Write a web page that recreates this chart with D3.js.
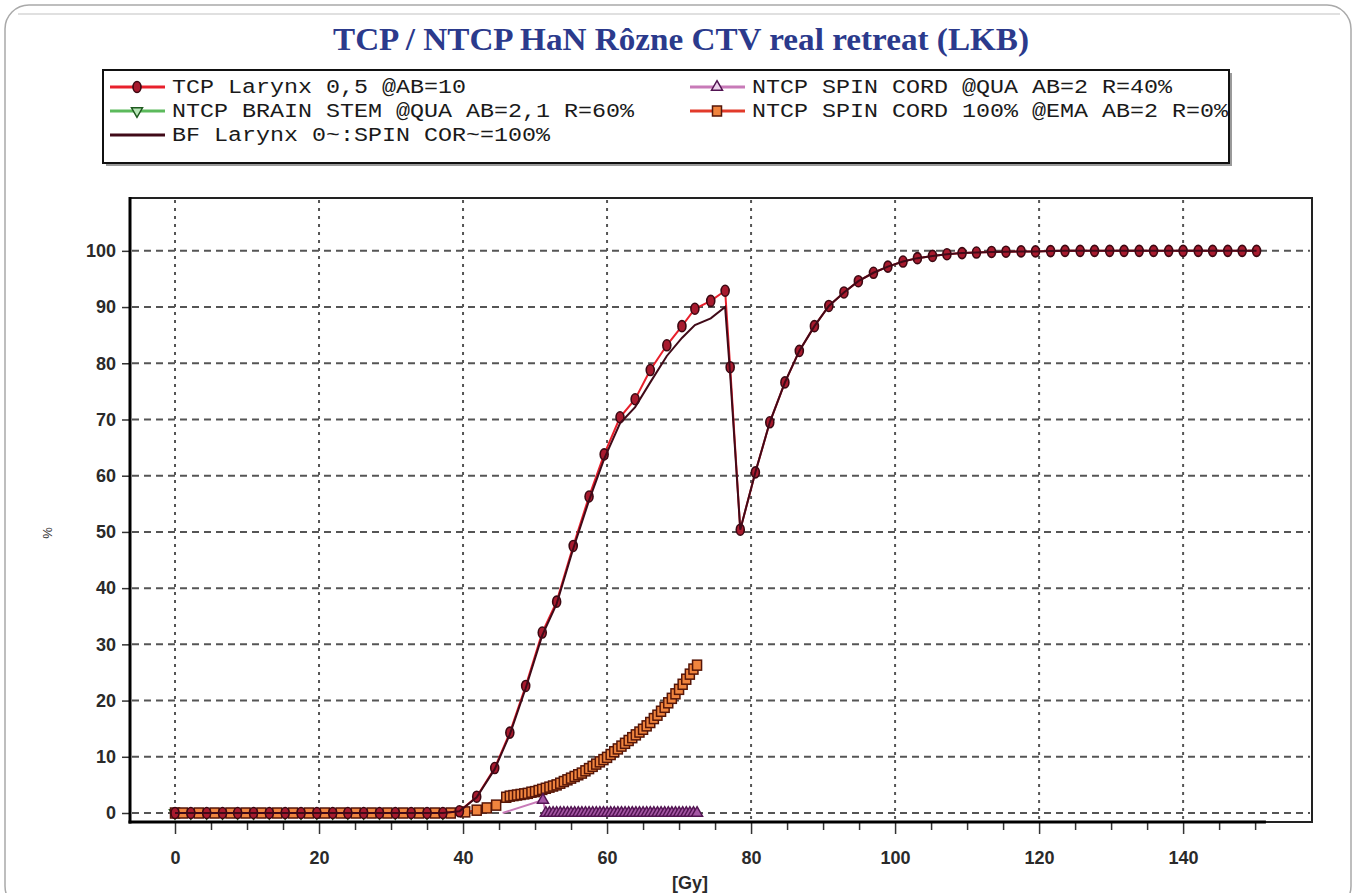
<!DOCTYPE html>
<html>
<head>
<meta charset="utf-8">
<script src="https://cdn.jsdelivr.net/npm/d3@7"></script>
<style>
  html, body { margin: 0; padding: 0; background: #fff; }
  svg { display: block; }
</style>
</head>
<body>
<div id="chart"></div>
<script>
// ---- data ----
const titleText = "TCP / NTCP HaN Rôzne CTV real retreat (LKB)";
const xTicks = [0, 5, 10, 15, 20, 25, 30, 35, 40, 45, 50, 55, 60, 65, 70, 75, 80, 85, 90, 95, 100, 105, 110, 115, 120, 125, 130, 135, 140, 145, 150];
const xLabels = [0, 20, 40, 60, 80, 100, 120, 140];
const yTicks = [0, 10, 20, 30, 40, 50, 60, 70, 80, 90, 100];

// dose points of the larynx curves (first course, drop, retreat course)
const tcpDose = [0, 2.2, 4.4, 6.6, 8.7, 10.9, 13.1, 15.3, 17.5, 19.7, 21.9, 24.0, 26.2, 28.4, 30.6, 32.8, 35.0, 37.2,
  39.5, 41.9, 44.4, 46.5, 48.7, 51.0, 53.0, 55.3, 57.5, 59.6, 61.8, 63.9, 66.0, 68.3, 70.4, 72.2, 74.4, 76.4, 77.1,
  78.5, 80.6, 82.6, 84.7, 86.7, 88.8, 90.8, 92.9, 94.9, 97.0, 99.0, 101.1, 103.1, 105.2, 107.2, 109.3, 111.3, 113.4,
  115.4, 117.5, 119.5, 121.6, 123.6, 125.7, 127.7, 129.8, 131.8, 133.9, 135.9, 138.0, 140.0, 142.1, 144.1, 146.2, 148.2, 150.2];
const tcpValue = [0, 0, 0, 0, 0, 0, 0, 0, 0, 0, 0, 0, 0, 0, 0, 0, 0, 0,
  0.3, 2.9, 8.0, 14.3, 22.6, 32.1, 37.6, 47.5, 56.3, 63.8, 70.4, 73.6, 78.8, 83.2, 86.6, 89.7, 91.1, 92.9, 79.3,
  50.4, 60.6, 69.5, 76.6, 82.2, 86.6, 90.2, 92.6, 94.6, 96.1, 97.2, 98.1, 98.7, 99.1, 99.4, 99.6, 99.7, 99.8,
  99.85, 99.9, 99.9, 99.95, 100, 100, 100, 100, 100, 100, 100, 100, 100, 100, 100, 100, 100, 100];
const bfValue = [0, 0, 0, 0, 0, 0, 0, 0, 0, 0, 0, 0, 0, 0, 0, 0, 0, 0,
  0.3, 2.8, 7.8, 14.0, 22.2, 31.6, 37.2, 47.0, 55.6, 63.0, 69.3, 72.2, 76.6, 81.3, 84.5, 86.8, 88.0, 90.0, 78.0,
  50.4, 60.6, 69.5, 76.6, 82.2, 86.6, 90.2, 92.6, 94.6, 96.1, 97.2, 98.1, 98.7, 99.1, 99.4, 99.6, 99.7, 99.8,
  99.85, 99.9, 99.9, 99.95, 100, 100, 100, 100, 100, 100, 100, 100, 100, 100, 100, 100, 100, 100];

// brain stem stays at zero (hidden under the other curves)
const stemDose = [0, 2.2, 4.4, 6.6, 8.7, 10.9, 13.1, 15.3, 17.5, 19.7, 21.9, 24.0, 26.2, 28.4, 30.6, 32.8, 35.0, 37.2];
const stemValue = [0, 0, 0, 0, 0, 0, 0, 0, 0, 0, 0, 0, 0, 0, 0, 0, 0, 0];

// spinal cord 100% @EMA (orange squares)
const cordEmaDose = [0, 1.1, 3.3, 5.5, 7.7, 9.8, 12.0, 14.2, 16.4, 18.6, 20.8, 23.0, 25.1, 27.3, 29.5, 31.7, 33.9, 36.1, 38.3,
  40.3, 41.9, 43.3, 44.6,
  46.0, 46.5, 47.0, 47.5, 48.0, 48.5, 49.0, 49.5, 50.0, 50.5, 51.0, 51.5, 52.0, 52.5, 53.0, 53.5, 54.0, 54.5,
  55.0, 55.5, 56.0, 56.5, 57.0, 57.5, 58.0, 58.5, 59.0, 59.5, 60.0, 60.5, 61.0, 61.5, 62.0, 62.5, 63.0, 63.5,
  64.0, 64.5, 65.0, 65.5, 66.0, 66.5, 67.0, 67.5, 68.0, 68.5, 69.0, 69.5, 70.0, 70.5, 71.0, 71.5, 72.0, 72.5];
const cordEmaValue = [0, 0, 0, 0, 0, 0, 0, 0, 0, 0, 0, 0, 0, 0, 0, 0, 0, 0, 0,
  0.2, 0.5, 0.9, 1.4,
  2.8, 3.0, 3.1, 3.2, 3.3, 3.4, 3.5, 3.7, 3.8, 4.0, 4.2, 4.4, 4.6, 4.8, 5.0, 5.3, 5.6, 5.9,
  6.2, 6.5, 6.8, 7.1, 7.5, 7.9, 8.3, 8.7, 9.1, 9.5, 9.9, 10.4, 10.9, 11.4, 11.9, 12.4, 12.9, 13.4,
  13.9, 14.4, 14.9, 15.5, 16.1, 16.8, 17.4, 18.1, 18.8, 19.6, 20.4, 21.2, 22.0, 22.9, 23.8, 24.7, 25.6, 26.3];

// spinal cord @QUA (purple triangles); the first point has no visible marker
const cordQuaDose = [45.5, 51.1,
  51.5, 52.0, 52.5, 53.0, 53.5, 54.0, 54.5, 55.0, 55.5, 56.0, 56.5, 57.0, 57.5, 58.0, 58.5, 59.0, 59.5,
  60.0, 60.5, 61.0, 61.5, 62.0, 62.5, 63.0, 63.5, 64.0, 64.5, 65.0, 65.5, 66.0, 66.5, 67.0, 67.5, 68.0,
  68.5, 69.0, 69.5, 70.0, 70.5, 71.0, 71.5, 72.0, 72.5];
const cordQuaValue = [0, 2.3,
  0, 0, 0, 0, 0, 0, 0, 0, 0, 0, 0, 0, 0, 0, 0, 0, 0,
  0, 0, 0, 0, 0, 0, 0, 0, 0, 0, 0, 0, 0, 0, 0, 0, 0,
  0, 0, 0, 0, 0, 0, 0, 0, 0];

const seriesNames = [
  "TCP Larynx 0,5 @AB=10",
  "NTCP SPIN CORD @QUA AB=2 R=40%",
  "NTCP BRAIN STEM @QUA AB=2,1 R=60%",
  "NTCP SPIN CORD 100% @EMA AB=2 R=0%",
  "BF Larynx 0~:SPIN COR~=100%"
];

class DoseChart {

  constructor(opts) {
    this.element = opts.element;
    this.width = 1357;
    this.height = 893;
    this.create();
  }

  create() {
    this.svg = d3.select(this.element).append('svg')
      .attr('width', this.width)
      .attr('height', this.height);

    this.x = d3.scaleLinear().domain([-6.25, 157.9]).range([130, 1312]);
    this.y = d3.scaleLinear().domain([-1.6, 109.4]).range([822, 198]);

    // series styles
    this.styles = {
      tcp:   { line: '#e8202c', fill: '#a81a2e', stroke: '#3c0812', marker: 'ellipse' },
      qua:   { line: '#c87ab8', fill: '#a456a4', stroke: '#521452', marker: 'triangle' },
      stem:  { line: '#5cba5c', fill: '#b8e6b8', stroke: '#1e5a1e', marker: 'down' },
      ema:   { line: '#e23a2a', fill: '#f0843e', stroke: '#561608', marker: 'square' },
      bf:    { line: '#400a18', marker: null }
    };

    this.drawSlide();
    this.drawTitle();
    this.drawLegend();
    this.drawGrid();
    this.drawSeries();
    this.drawAxes();
  }

  drawSlide() {
    this.svg.append('rect')
      .attr('x', 5).attr('y', 5).attr('width', 1346).attr('height', 905).attr('rx', 24)
      .attr('fill', '#fff').attr('stroke', '#a9a9a9').attr('stroke-width', 1.5);
    this.svg.append('line')
      .attr('x1', 18).attr('x2', 1340).attr('y1', 14).attr('y2', 14)
      .attr('stroke', '#d6d6d6').attr('stroke-width', 1.5);
  }

  drawTitle() {
    this.svg.append('text')
      .attr('x', 681).attr('y', 50)
      .attr('text-anchor', 'middle')
      .attr('textLength', 696).attr('lengthAdjust', 'spacingAndGlyphs')
      .style('font-family', '"Liberation Serif", "Times New Roman", serif')
      .style('font-weight', 'bold').style('font-size', '31px')
      .attr('fill', '#2b3a8c')
      .text(titleText);
  }

  marker(g, type, style, cx, cy) {
    if (type === 'ellipse') {
      g.append('ellipse').attr('cx', cx).attr('cy', cy).attr('rx', 4).attr('ry', 5.5)
        .attr('fill', style.fill).attr('stroke', style.stroke).attr('stroke-width', 1.6);
    } else if (type === 'square') {
      g.append('rect').attr('x', cx - 4.5).attr('y', cy - 5).attr('width', 9).attr('height', 10)
        .attr('fill', style.fill).attr('stroke', style.stroke).attr('stroke-width', 1.5);
    } else {
      g.append('path')
        .attr('d', d3.symbol(d3.symbolTriangle, 52)())
        .attr('transform', `translate(${cx},${cy})` + (type === 'down' ? ' rotate(180)' : ''))
        .attr('fill', style.fill).attr('stroke', style.stroke).attr('stroke-width', 1.5);
    }
  }

  drawLegend() {
    var g = this.svg.append('g');
    // shadow + box
    g.append('rect').attr('x', 106).attr('y', 73).attr('width', 1126).attr('height', 93)
      .attr('fill', '#9a9a9a');
    g.append('rect').attr('x', 103).attr('y', 70).attr('width', 1126).attr('height', 93)
      .attr('fill', '#fff').attr('stroke', '#111').attr('stroke-width', 2);

    const items = [
      { name: seriesNames[0], key: 'tcp', lx: 110, ty: 87 },
      { name: seriesNames[1], key: 'qua', lx: 690, ty: 87 },
      { name: seriesNames[2], key: 'stem', lx: 110, ty: 111 },
      { name: seriesNames[3], key: 'ema', lx: 690, ty: 111 },
      { name: seriesNames[4], key: 'bf', lx: 110, ty: 135 }
    ];

    items.forEach(it => {
      var st = this.styles[it.key];
      g.append('line').attr('x1', it.lx).attr('x2', it.lx + 55)
        .attr('y1', it.ty).attr('y2', it.ty)
        .attr('stroke', st.line).attr('stroke-width', 3);
      if (st.marker) {
        var mst = it.key === 'qua' ? { fill: '#ecd2ec', stroke: st.stroke } : st;
        this.marker(g, st.marker, mst, it.lx + 27, it.ty);
      }
      g.append('text')
        .attr('x', it.lx + 62).attr('y', it.ty + 6)
        .attr('textLength', it.name.length * 14.0).attr('lengthAdjust', 'spacingAndGlyphs')
        .style('font-family', '"Liberation Mono", "Courier New", monospace')
        .style('font-size', '20px')
        .attr('fill', '#1a1a1a')
        .text(it.name);
    });
  }

  drawGrid() {
    var g = this.svg.append('g');
    g.append('rect').attr('x', 130).attr('y', 198).attr('width', 1182).attr('height', 624)
      .attr('fill', '#fff').attr('stroke', '#222').attr('stroke-width', 2);

    g.selectAll('.hgrid').data(yTicks).join('line').classed('hgrid', true)
      .attr('x1', 132).attr('x2', 1310)
      .attr('y1', d => this.y(d)).attr('y2', d => this.y(d))
      .attr('stroke', '#555').attr('stroke-width', 2).attr('stroke-dasharray', '7,5');

    g.selectAll('.vgrid').data(xLabels).join('line').classed('vgrid', true)
      .attr('x1', d => this.x(d)).attr('x2', d => this.x(d))
      .attr('y1', 200).attr('y2', 822)
      .attr('stroke', '#555').attr('stroke-width', 2).attr('stroke-dasharray', '3,5');
  }

  drawLine(dose, value, key, markFrom) {
    var st = this.styles[key];
    var pts = dose.map((d, i) => [d, value[i]]);
    var g = this.svg.append('g');
    g.append('path').datum(pts)
      .attr('d', d3.line().x(d => this.x(d[0])).y(d => this.y(d[1])))
      .attr('fill', 'none').attr('stroke', st.line).attr('stroke-width', 2);
    if (markFrom != null) {
      pts.slice(markFrom).forEach(p => this.marker(g, st.marker, st, this.x(p[0]), this.y(p[1])));
    }
  }

  drawSeries() {
    this.drawLine(stemDose, stemValue, 'stem', 0);
    this.drawLine(cordEmaDose, cordEmaValue, 'ema', 0);
    this.drawLine(cordQuaDose, cordQuaValue, 'qua', 1);
    this.drawLine(tcpDose, tcpValue, 'tcp', 0);
    this.drawLine(tcpDose, bfValue, 'bf', null);
  }

  drawAxes() {
    var fontStyle = sel => sel.selectAll('text')
      .style('font-family', '"Liberation Sans", Arial, sans-serif')
      .style('font-weight', 'bold').style('font-size', '18px')
      .attr('fill', '#2a2a2a');

    var xAxis = this.svg.append('g').attr('transform', 'translate(0,822)')
      .call(d3.axisBottom(this.x).tickValues(xTicks).tickSize(8).tickPadding(21)
        .tickFormat(d => xLabels.includes(d) ? d : ''));
    xAxis.select('.domain').remove();
    xAxis.selectAll('.tick line').attr('stroke', '#333').attr('stroke-width', 1.5)
      .attr('y2', d => xLabels.includes(d) ? 12 : 8);
    fontStyle(xAxis);

    var yAxis = this.svg.append('g').attr('transform', 'translate(130,0)')
      .call(d3.axisLeft(this.y).tickValues(yTicks).tickSize(8).tickPadding(6));
    yAxis.select('.domain').remove();
    yAxis.selectAll('.tick line').attr('stroke', '#333').attr('stroke-width', 1.5);
    fontStyle(yAxis);

    // heavy axis lines
    this.svg.append('line').attr('x1', 130).attr('x2', 130).attr('y1', 197).attr('y2', 823.5)
      .attr('stroke', '#000').attr('stroke-width', 3);
    this.svg.append('line').attr('x1', 128.5).attr('x2', this.x(151.5)).attr('y1', 822).attr('y2', 822)
      .attr('stroke', '#000').attr('stroke-width', 3);

    this.svg.append('text')
      .attr('x', 690).attr('y', 889).attr('text-anchor', 'middle')
      .style('font-family', '"Liberation Sans", Arial, sans-serif')
      .style('font-weight', 'bold')
      .style('font-size', '18px').attr('fill', '#2a2a2a')
      .text('[Gy]');

    this.svg.append('text')
      .attr('transform', 'translate(52,533) rotate(-90)')
      .attr('text-anchor', 'middle')
      .style('font-family', '"Liberation Sans", Arial, sans-serif')
      .style('font-size', '13px').attr('fill', '#333')
      .text('%');
  }
}

new DoseChart({ element: document.getElementById('chart') });
</script>
</body>
</html>
